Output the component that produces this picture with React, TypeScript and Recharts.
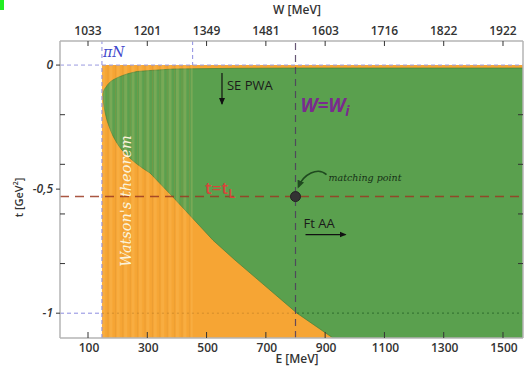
import React from "react";
import { ComposedChart, Area, XAxis, YAxis, ReferenceLine, ReferenceDot } from "recharts";

// axis ticks
const E_TICKS = [100, 300, 500, 700, 900, 1100, 1300, 1500];
const W_LABELS = ["1033", "1201", "1349", "1481", "1603", "1716", "1822", "1922"];
const T_TICKS = [0, -0.2, -0.4, -0.5, -0.6, -0.8, -1];
const T_LABELED = [0, -0.5, -1];
const T_LABEL_TEXT = ["0", "-0,5", "-1"];

// boundary of the physical region (green)
const E_BOUND = [150.6, 152, 154, 157, 160.7, 165, 170.8, 177, 184.3, 194, 204.6, 217, 231.6, 247, 265.3, 286, 309.2, 386.7, 521.7, 595.9, 805.1, 926.5, 1567.5];
const T_LOWER = [-0.121, -0.145, -0.165, -0.187, -0.206, -0.226, -0.246, -0.266, -0.286, -0.307, -0.327, -0.346, -0.363, -0.381, -0.399, -0.417, -0.435, -0.532, -0.706, -0.786, -1.0, -1.1, -1.1];
const T_UPPER = [-0.121, -0.108, -0.101, -0.094, -0.089, -0.081, -0.073, -0.066, -0.06, -0.054, -0.048, -0.042, -0.036, -0.031, -0.026, -0.024, -0.022, -0.016, -0.014, -0.013, -0.012, -0.012, -0.012];

// special lines
const E_PIN = 147; // pi N threshold
const E_SE = 453; // end of SE PWA / Watson region
const E_MATCH = 800;
const T_L = -0.53;

const X_DOMAIN: [number, number] = [5.5, 1567.5];
const Y_DOMAIN: [number, number] = [-1.1, 0.097];

const ORANGE = "#F6A534";
const GREEN = "#5AA04E";

const greenData = E_BOUND.map((E, i) => ({ E, band: [T_LOWER[i], T_UPPER[i]] }));
const orangeData = [
  { E: E_PIN, band: [-1.1, 0] },
  { E: X_DOMAIN[1], band: [-1.1, 0] },
];
const stripeData = [
  { E: E_PIN, band: [-1.1, 0] },
  { E: E_SE, band: [-1.1, 0] },
];

const tickFont = { fontFamily: "Open Sans", fontWeight: 600, fontSize: 12, fill: "#333" };

const BottomTick = ({ x, y, payload }: any) => (
  <g>
    <line x1={x} x2={x} y1={y} y2={y - 6} stroke="#333" strokeWidth={1} />
    <text x={x + 1} y={y + 14} textAnchor="middle" {...tickFont}>{payload.value}</text>
  </g>
);

const TopTick = ({ x, y, index }: any) => (
  <g>
    <line x1={x} x2={x} y1={y} y2={y + 5} stroke="#333" strokeWidth={1} />
    <text x={x} y={y - 6} textAnchor="middle" {...tickFont}>{W_LABELS[index]}</text>
  </g>
);

const LeftTick = ({ x, y, payload }: any) => {
  const k = T_LABELED.indexOf(payload.value);
  if (k < 0) return <line x1={x} x2={x + 5} y1={y} y2={y} stroke="#333" strokeWidth={1} />;
  return (
    <g>
      <line x1={x - 4} x2={x} y1={y} y2={y} stroke="#333" strokeWidth={1} />
      <text x={x - 7} y={y + 4} textAnchor="end" {...tickFont} fontStyle="italic">{T_LABEL_TEXT[k]}</text>
    </g>
  );
};

const RightTick = ({ x, y, payload }: any) =>
  T_LABELED.includes(payload.value) ? <g /> : <line x1={x} x2={x - 5} y1={y} y2={y} stroke="#333" strokeWidth={1} />;

const axisLine = { stroke: "#b5b5b5", strokeWidth: 1.5 };

export default function App() {
  return (
    <div style={{ position: "absolute", left: 0, top: 0, width: 530, height: 369, background: "#fff", fontFamily: "Open Sans" }}>
      <div style={{ position: "absolute", left: 0, top: 0, width: 4, height: 10, background: "#22ee22" }} />
      <ComposedChart width={530} height={369} margin={{ top: 0, right: 0, bottom: 0, left: 0 }}>
        <defs>
          <pattern id="watson" patternUnits="userSpaceOnUse" x={102} y={0} width={7.4} height={10}>
            <rect x={0} y={0} width={3} height={10} fill="#ffd27a" fillOpacity={0.18} />
            <rect x={5.5} y={0} width={1} height={10} fill="#c9862a" fillOpacity={0.22} />
          </pattern>
          <marker id="arr" markerWidth={8} markerHeight={8} refX={6} refY={4} orient="auto" markerUnits="userSpaceOnUse">
            <path d="M0,1 L7,4 L0,7 Z" fill="#111" />
          </marker>
          <marker id="arrg" markerWidth={9} markerHeight={9} refX={6} refY={4.5} orient="auto" markerUnits="userSpaceOnUse">
            <path d="M0,1 L8,4.5 L0,8 Z" fill="#1f4a1f" />
          </marker>
        </defs>
        <XAxis
          type="number" dataKey="E" domain={X_DOMAIN} allowDataOverflow ticks={E_TICKS}
          height={31} tickSize={0} tickMargin={0} axisLine={axisLine} tick={<BottomTick />} interval={0}
        />
        <XAxis
          xAxisId="top" orientation="top" type="number" dataKey="E" domain={X_DOMAIN} allowDataOverflow ticks={E_TICKS}
          height={41} tickSize={0} tickMargin={0} axisLine={axisLine} tick={<TopTick />} interval={0}
        />
        <YAxis
          type="number" domain={Y_DOMAIN} allowDataOverflow ticks={T_TICKS}
          width={60} tickSize={0} tickMargin={0} axisLine={axisLine} tick={<LeftTick />} interval={0}
        />
        <YAxis
          yAxisId="right" orientation="right" type="number" domain={Y_DOMAIN} allowDataOverflow ticks={T_TICKS}
          width={7} tickSize={0} tickMargin={0} axisLine={axisLine} tick={<RightTick />} interval={0}
        />

        <Area data={orangeData} dataKey="band" type="linear" fill={ORANGE} fillOpacity={1} stroke="none" isAnimationActive={false} dot={false} activeDot={false} />
        <Area data={greenData} dataKey="band" type="linear" fill={GREEN} fillOpacity={1} stroke="#44803b" strokeWidth={0.7} isAnimationActive={false} dot={false} activeDot={false} />
        <Area data={stripeData} dataKey="band" type="linear" fill="url(#watson)" fillOpacity={1} stroke="none" isAnimationActive={false} dot={false} activeDot={false} />

        {/* threshold and limit lines */}
        <ReferenceLine x={E_PIN} stroke="#8c8ce0" strokeDasharray="4 3" strokeWidth={1} />
        <ReferenceLine segment={[{ x: X_DOMAIN[0], y: 0 }, { x: X_DOMAIN[1], y: 0 }]} stroke="#9a9ae0" strokeDasharray="4 3" strokeWidth={1} />
        <ReferenceLine segment={[{ x: X_DOMAIN[0], y: -1 }, { x: E_PIN, y: -1 }]} stroke="#8c8ce0" strokeDasharray="4 3" strokeWidth={1} />
        <ReferenceLine segment={[{ x: E_PIN, y: -1 }, { x: 805, y: -1 }]} stroke="#b07420" strokeOpacity={0.5} strokeDasharray="2 3" strokeWidth={1} />
        <ReferenceLine segment={[{ x: 805, y: -1 }, { x: X_DOMAIN[1], y: -1 }]} stroke="#2d6b2d" strokeOpacity={0.8} strokeDasharray="2 3" strokeWidth={1.2} />
        <ReferenceLine segment={[{ x: E_SE, y: Y_DOMAIN[1] }, { x: E_SE, y: 0 }]} stroke="#8c8ce0" strokeDasharray="4 3" strokeWidth={1} />
        <ReferenceLine x={E_MATCH} stroke="#4d3a5e" strokeOpacity={0.85} strokeDasharray="7 5" strokeWidth={1.2} />
        <ReferenceLine y={T_L} stroke="#9b3a22" strokeOpacity={0.85} strokeDasharray="9 6" strokeWidth={1.5} />

        {/* annotations */}
        <ReferenceDot x={E_PIN} y={0} r={0} ifOverflow="visible" shape={(p: any) => (
          <text x={p.cx + 1} y={p.cy - 8} fill="#3f48cc" fontFamily="DejaVu Serif" fontStyle="italic" fontSize={14}>πN</text>
        )} />
        <ReferenceDot x={552} y={0} r={0} ifOverflow="visible" shape={(p: any) => (
          <g>
            <line x1={p.cx} x2={p.cx} y1={p.cy + 8} y2={p.cy + 39} stroke="#111" strokeWidth={1.2} markerEnd="url(#arr)" />
            <text x={p.cx + 5} y={p.cy + 25} fill="#1a1a1a" fontFamily="Open Sans" fontSize={13}>SE PWA</text>
          </g>
        )} />
        <ReferenceDot x={E_MATCH} y={0} r={0} ifOverflow="visible" shape={(p: any) => (
          <text x={p.cx + 5} y={p.cy + 47} fill="#7a2a8e" fontFamily="Open Sans" fontWeight={700} fontStyle="italic" fontSize={19}>
            W=W<tspan fontSize={14} dy={4}>i</tspan>
          </text>
        )} />
        <ReferenceDot x={495} y={T_L} r={0} ifOverflow="visible" shape={(p: any) => (
          <text x={p.cx} y={p.cy - 3} fill="#d8453a" fontFamily="Open Sans" fontWeight={600} fontSize={17}>
            t=t<tspan fontSize={13} dy={4}>L</tspan>
          </text>
        )} />
        <ReferenceDot x={228} y={-0.548} r={0} ifOverflow="visible" shape={(p: any) => (
          <text x={p.cx} y={p.cy} transform={`rotate(-90 ${p.cx} ${p.cy})`} textAnchor="middle" dominantBaseline="central"
            fill="#fbf3dc" fontFamily="DejaVu Serif" fontStyle="italic" fontSize={14.5}>Watson's theorem</text>
        )} />
        <ReferenceDot x={E_MATCH} y={T_L} r={5} fill="#333" stroke="#222" ifOverflow="visible" />
        <ReferenceDot x={E_MATCH} y={T_L} r={0} ifOverflow="visible" shape={(p: any) => (
          <g>
            <path d={`M ${p.cx + 31} ${p.cy - 22} C ${p.cx + 22} ${p.cy - 30}, ${p.cx + 8} ${p.cy - 22}, ${p.cx + 3} ${p.cy - 10}`}
              fill="none" stroke="#1f4a1f" strokeWidth={1.6} markerEnd="url(#arrg)" />
            <text x={p.cx + 33} y={p.cy - 16} fill="#163016" fontFamily="DejaVu Serif" fontStyle="italic" fontSize={9.5}>matching point</text>
            <text x={p.cx + 8} y={p.cy + 31} fill="#1a1a1a" fontFamily="Open Sans" fontSize={13}>Ft AA</text>
            <line x1={p.cx + 10} x2={p.cx + 50} y1={p.cy + 38} y2={p.cy + 38} stroke="#111" strokeWidth={1.2} markerEnd="url(#arr)" />
          </g>
        )} />
      </ComposedChart>

      {/* axis titles */}
      <div style={{ position: "absolute", left: 262, top: 1, width: 70, textAlign: "center", fontSize: 12, fontWeight: 600, color: "#333" }}>W [MeV]</div>
      <div style={{ position: "absolute", left: 262, top: 350, width: 70, textAlign: "center", fontSize: 12, fontWeight: 600, color: "#333" }}>E [MeV]</div>
      <div style={{ position: "absolute", left: -22, top: 190, width: 80, textAlign: "center", fontSize: 11, fontWeight: 600, color: "#333", transform: "rotate(-90deg)" }}>
        t [GeV<sup style={{ fontSize: 7 }}>2</sup>]
      </div>
    </div>
  );
}
